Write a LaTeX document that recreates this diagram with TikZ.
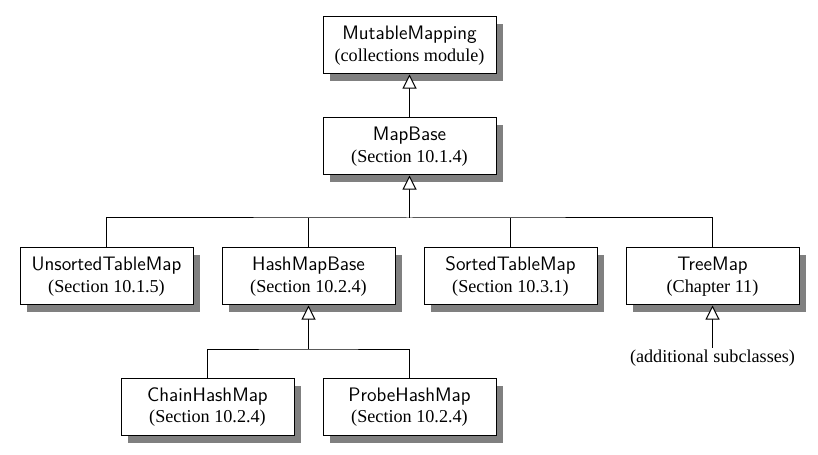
\documentclass[tikz,border=0pt]{standalone}
\usepackage{fontspec}
\setmainfont{Liberation Serif}
\usetikzlibrary{arrows.meta,shadows}
\tikzset{
  classbox/.style={draw, fill=white, line width=0.6pt, minimum width=103.8pt,
    minimum height=34.2pt, inner sep=0pt, align=center, font=\fontsize{10.9}{13}\selectfont,
    drop shadow={shadow xshift=4.2pt, shadow yshift=-4.2pt, fill=black!50, opacity=1}},
  inherit/.style={line width=0.6pt, -{Triangle[open, length=8.5pt, width=8.5pt, fill=white]}},
  link/.style={line width=0.6pt}
}
\newcommand{\cls}[2]{{\sffamily\fontsize{11.7}{13}\selectfont #1}\\#2}
\begin{document}
\begin{tikzpicture}[x=0.6pt,y=-0.6pt]
		\useasboundingbox (0,0) rectangle (818,455);
		% classes
		\node[classbox] (mutable) at (409.5,45.5) {\cls{MutableMapping}{(collections module)}};
		\node[classbox] (mapbase) at (409.5,146.5) {\cls{MapBase}{(Section 10.1.4)}};
		\node[classbox] (unsorted) at (106.5,276.5) {\cls{UnsortedTableMap}{(Section 10.1.5)}};
		\node[classbox] (hashbase) at (308.5,276.5) {\cls{HashMapBase}{(Section 10.2.4)}};
		\node[classbox] (sorted) at (510.5,276.5) {\cls{SortedTableMap}{(Section 10.3.1)}};
		\node[classbox] (treemap) at (712.5,276.5) {\cls{TreeMap}{(Chapter 11)}};
		\node[classbox] (chain) at (207.5,407) {\cls{ChainHashMap}{(Section 10.2.4)}};
		\node[classbox] (probe) at (409.5,407) {\cls{ProbeHashMap}{(Section 10.2.4)}};
		\node[font=\fontsize{10.9}{13}\selectfont, inner sep=1pt] (more) at (712.5,358) {(additional subclasses)};
		
		% buses
		\coordinate (mapbus) at (409.5,218);
		\coordinate (hashbus) at (308.5,349);
		
		% inheritance
		\draw[inherit] (mapbase.north) -- (mutable.south);
		\draw[inherit] (mapbus) -- (mapbase.south);
		\draw[link] (unsorted.north) |- (mapbus) -| (treemap.north);
		\draw[link] (hashbase.north) -- (hashbase.north |- mapbus);
		\draw[link] (sorted.north) -- (sorted.north |- mapbus);
		\draw[inherit] (hashbus) -- (hashbase.south);
		\draw[link] (chain.north) |- (hashbus) -| (probe.north);
		\draw[inherit] (more.north) -- (treemap.south);
\end{tikzpicture}
\end{document}
